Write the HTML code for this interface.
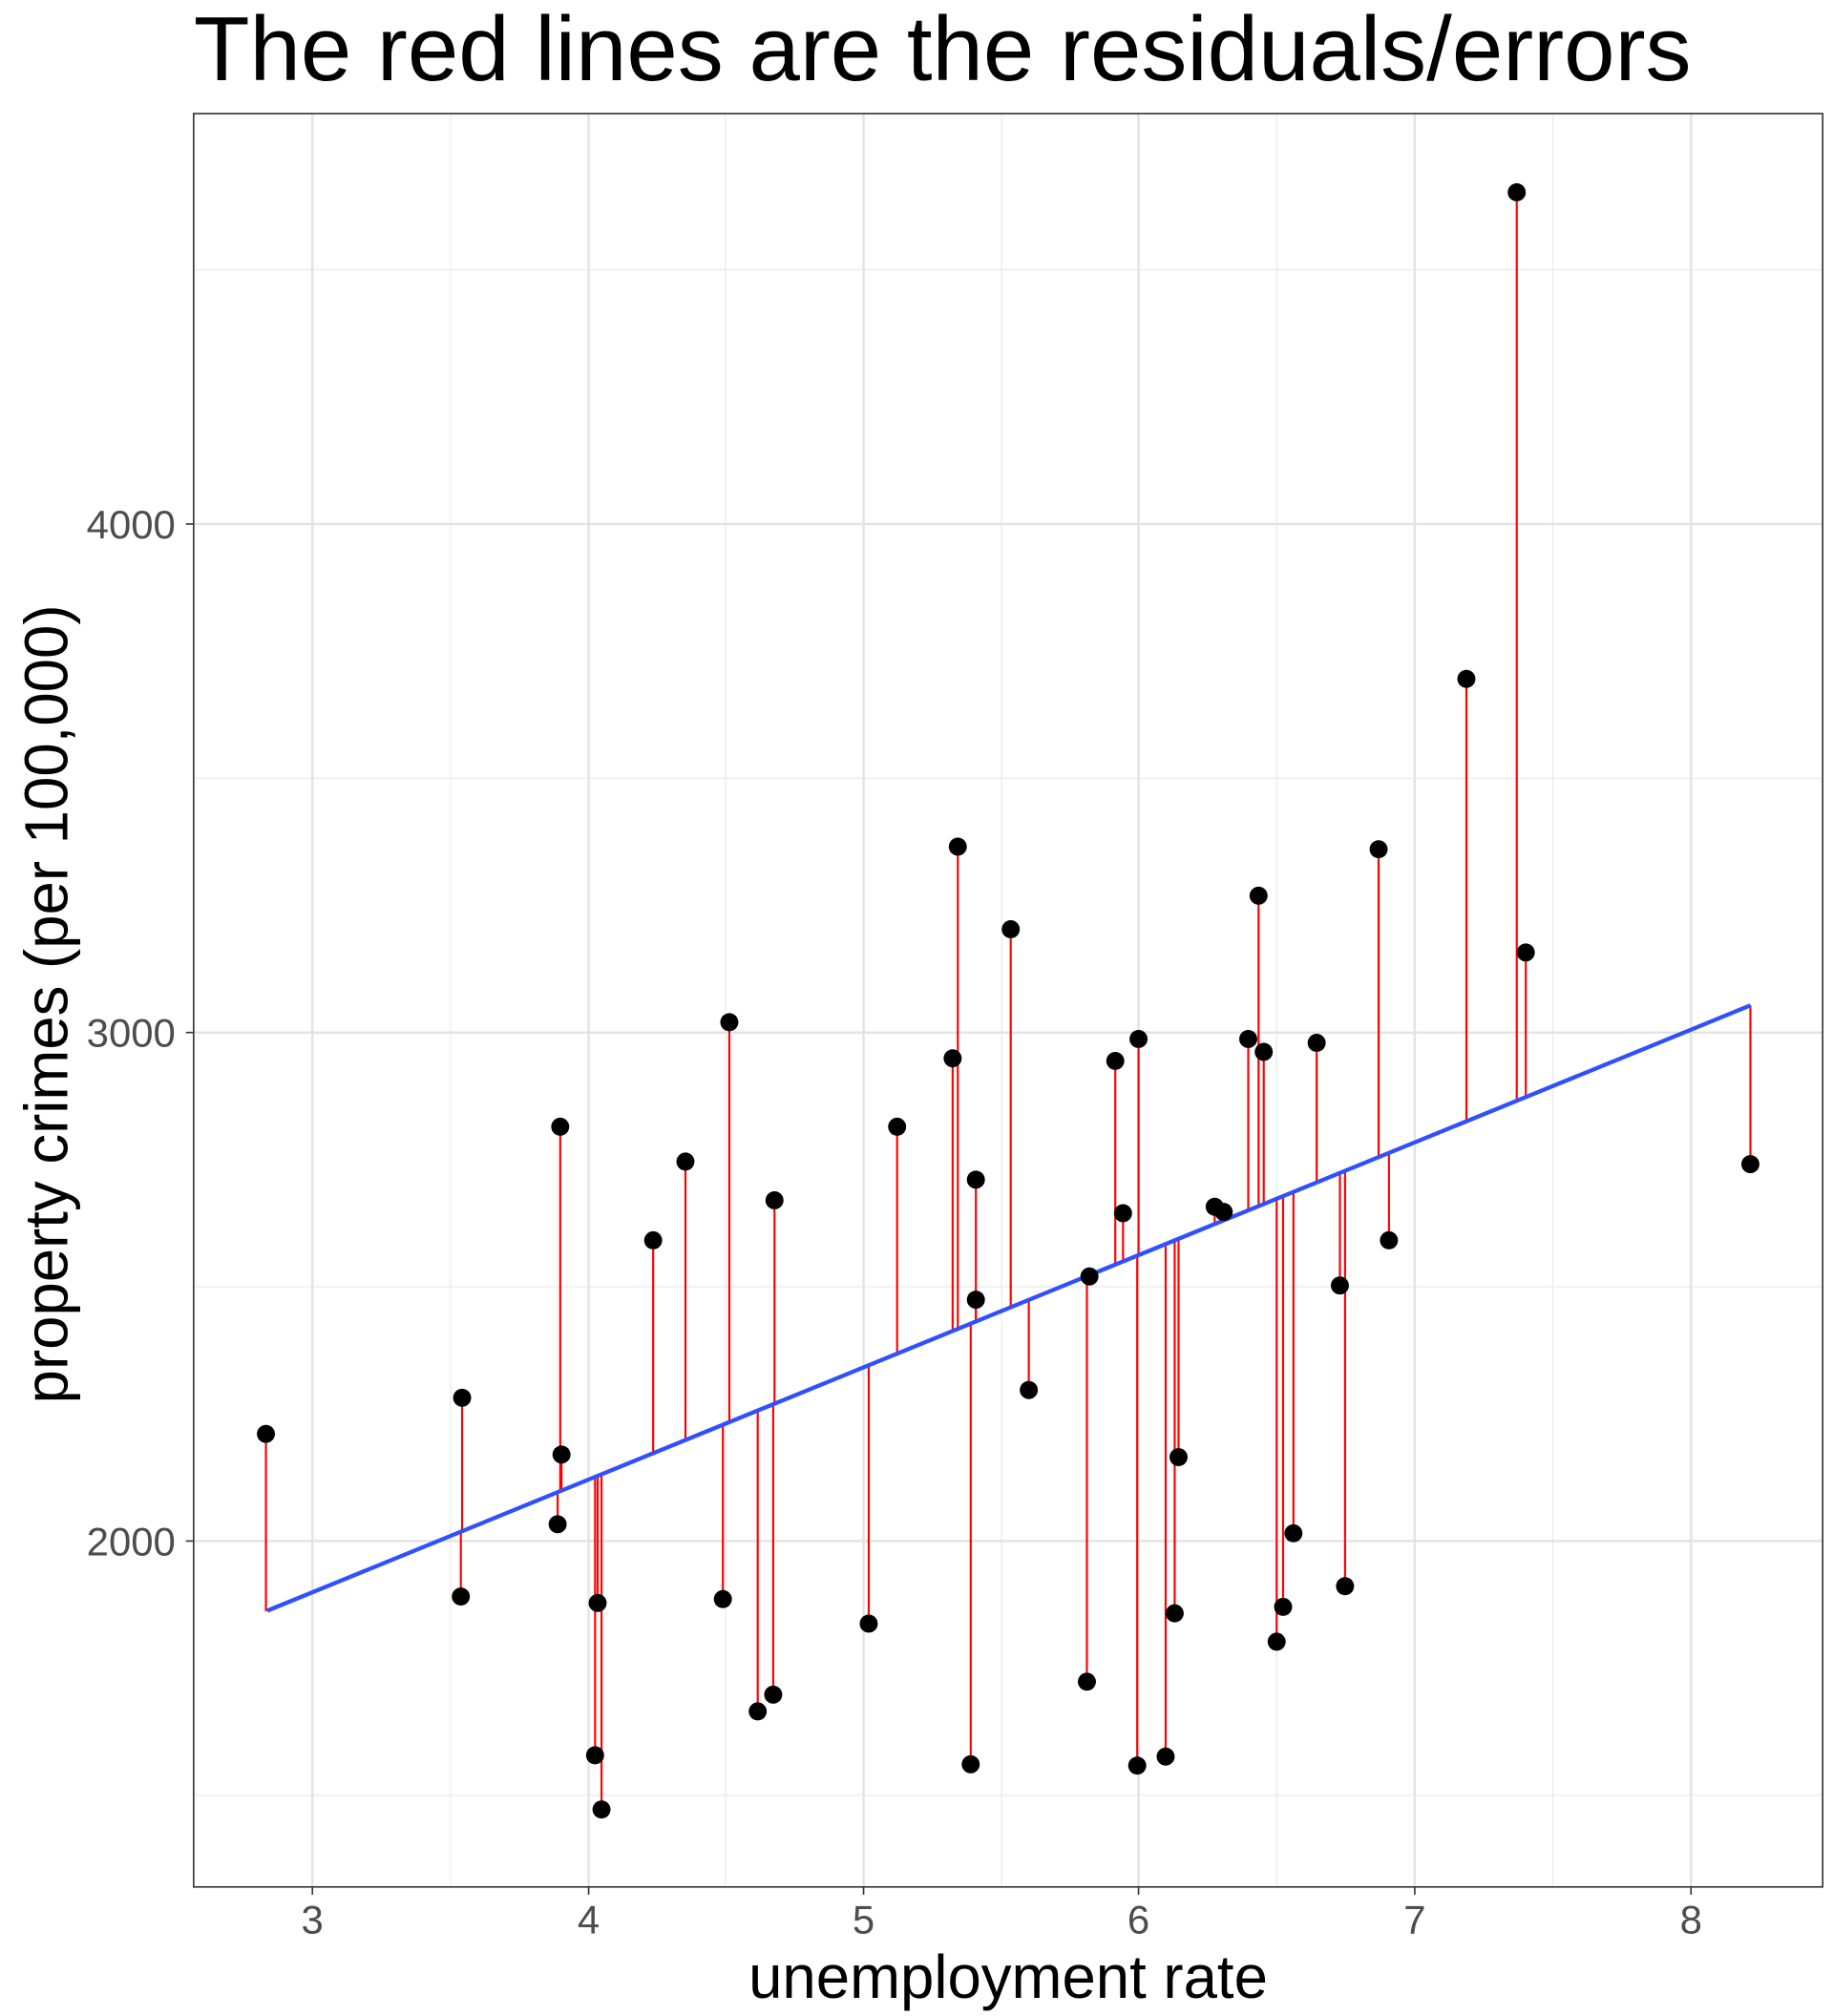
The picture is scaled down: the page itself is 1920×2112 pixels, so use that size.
<!DOCTYPE html>
<html><head><meta charset="utf-8"><style>html,body{margin:0;padding:0;background:#fff}svg{display:block}</style></head>
<body>
<svg id="s" width="1920" height="2112" viewBox="0 0 1420 1562" xmlns="http://www.w3.org/2000/svg" font-family="Liberation Sans, Arial, sans-serif">
<rect width="1420" height="1562" fill="#fff"/>
<g id="grid"></g>
<g id="res" stroke="#ff0000" stroke-width="1.6"></g>
<line x1="207" y1="1248" x2="1356" y2="779" stroke="#3050ff" stroke-width="3.2"/>
<g id="pts" fill="#000"></g>
<rect x="150" y="88" width="1262" height="1374" fill="none" stroke="#333" stroke-width="1.2"/>
<g fill="#4d4d4d" font-size="31" text-anchor="middle">
<text x="242" y="1498">3</text><text x="456" y="1498">4</text><text x="669" y="1498">5</text><text x="882" y="1498">6</text><text x="1096" y="1498">7</text><text x="1310" y="1498">8</text>
</g>
<g fill="#4d4d4d" font-size="31" text-anchor="end">
<text x="136" y="417">4000</text><text x="136" y="811">3000</text><text x="136" y="1205">2000</text>
</g>
<g stroke="#333" stroke-width="1.2">
<line x1="144" y1="406" x2="150" y2="406"/><line x1="144" y1="800" x2="150" y2="800"/><line x1="144" y1="1194" x2="150" y2="1194"/>
<line x1="242" y1="1462" x2="242" y2="1468"/><line x1="456" y1="1462" x2="456" y2="1468"/><line x1="669" y1="1462" x2="669" y2="1468"/><line x1="882" y1="1462" x2="882" y2="1468"/><line x1="1096" y1="1462" x2="1096" y2="1468"/><line x1="1310" y1="1462" x2="1310" y2="1468"/>
</g>
<text x="781" y="1548" font-size="47" text-anchor="middle" fill="#000">unemployment rate</text>
<text transform="translate(52,778) rotate(-90)" font-size="47" text-anchor="middle" fill="#000">property crimes (per 100,000)</text>
<text x="150" y="62" font-size="71" fill="#000">The red lines are the residuals/errors</text>
</svg>
<script>
var ns="http://www.w3.org/2000/svg";
function el(p,t,a){var e=document.createElementNS(ns,t);for(var k in a)e.setAttribute(k,a[k]);document.getElementById(p).appendChild(e);}
[349,562,776,989,1203].forEach(function(x){el("grid","line",{x1:x,y1:88,x2:x,y2:1462,stroke:"#ebebeb","stroke-width":1});});
[209,603,997,1391].forEach(function(y){el("grid","line",{x1:150,y1:y,x2:1412,y2:y,stroke:"#ebebeb","stroke-width":1});});
[242,456,669,882,1096,1310].forEach(function(x){el("grid","line",{x1:x,y1:88,x2:x,y2:1462,stroke:"#e3e3e3","stroke-width":1.8});});
[406,800,1194].forEach(function(y){el("grid","line",{x1:150,y1:y,x2:1412,y2:y,stroke:"#e3e3e3","stroke-width":1.8});});
var P=[[206,1111],[358,1083],[357,1237],[434,873],[435,1127],[432,1181],[463,1242],[461,1360],[466,1402],[506,961],[531,900],[565,792],[560,1239],[587,1326],[599,1313],[600,930],[673,1258],[695,873],[738,820],[742,656],[756,914],[756,1007],[752,1367],[783,720],[797,1077],[844,989],[842,1303],[864,822],[870,940],[882,805],[881,1368],[903,1361],[910,1250],[913,1129],[941,935],[948,939],[967,805],[975,694],[979,815],[989,1272],[994,1245],[1002,1188],[1020,808],[1038,996],[1042,1229],[1068,658],[1076,961],[1136,526],[1175,149],[1182,738],[1356,902]];
P.forEach(function(p){var yl=1248-(p[0]-207)*469/1149;el("res","line",{x1:p[0],y1:p[1],x2:p[0],y2:yl});});
P.forEach(function(p){el("pts","circle",{cx:p[0],cy:p[1],r:7});});
</script>
</body></html>
